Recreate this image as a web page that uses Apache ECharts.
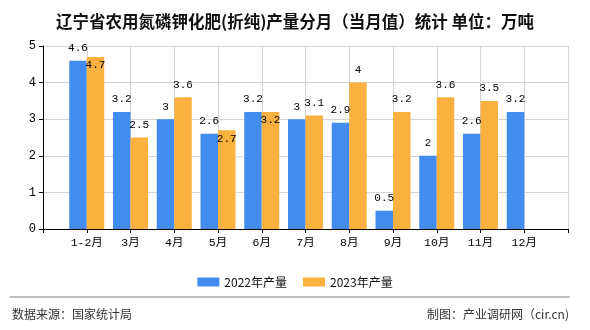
<!DOCTYPE html>
<html>
<head>
<meta charset="utf-8">
<script src="https://cdn.jsdelivr.net/npm/echarts@6/dist/echarts.min.js"></script>
<style>html,body{margin:0;padding:0;background:#fff}#c{width:590px;height:330px}</style>
</head>
<body>
<div id="c"></div>
<script>
const categories = ['1-2月','3月','4月','5月','6月','7月','8月','9月','10月','11月','12月'];
const series2022 = [4.6, 3.2, 3, 2.6, 3.2, 3, 2.9, 0.5, 2, 2.6, 3.2];
const series2023 = [4.7, 2.5, 3.6, 2.7, 3.2, 3.1, 4, 3.2, 3.6, 3.5, null];
const yTicks = [0, 1, 2, 3, 4, 5];
const titleText = '辽宁省农用氮磷钾化肥(折纯)产量分月（当月值）统计 单位：万吨';
const legendNames = ['2022年产量', '2023年产量'];
const sourceText = '数据来源：国家统计局';
const makerText = '制图：产业调研网（cir.cn)';

const BLUE = '#438cef', ORANGE = '#fbb13f';
const monoFont = '"Liberation Mono","Noto Sans CJK SC",monospace';

// axis slots: empty slot at both ends
const axisCats = [''].concat(categories, ['']);
const d22 = [null].concat(series2022, [null]);
const d23 = [null].concat(series2023, [null]);

function overlaps(i) {
  const a = series2022[i], b = series2023[i];
  if (a == null || b == null) return false;
  return Math.abs(a - b) < 0.2 && String(a).length > 1 && String(b).length > 1;
}

const data22 = d22.map(v => v == null ? '-' : v);
const data23 = d23.map((v, k) => {
  if (v == null) return '-';
  const i = k - 1;
  if (overlaps(i)) return { value: v, label: { position: 'insideTop', distance: 3 } };
  return v;
});

const chart = echarts.init(document.getElementById('c'));
chart.setOption({
  animation: false,
  title: {
    text: titleText, left: 'center', top: 8,
    textStyle: { fontSize: 16.5, fontWeight: 'bold', color: '#111', fontFamily: '"Noto Sans CJK SC"' }
  },
  legend: {
    data: legendNames, left: 'center', top: 271,
    itemWidth: 22, itemHeight: 9, itemGap: 16,
    textStyle: { fontSize: 12, color: '#111', fontFamily: '"Noto Sans CJK SC"', padding: [0, 0, 0, 0] },
    icon: 'rect'
  },
  grid: { left: 43, right: 22, top: 46, bottom: 101, containLabel: false },
  xAxis: {
    type: 'category', data: axisCats, boundaryGap: false,
    axisLine: { lineStyle: { color: '#000', width: 1 } },
    axisTick: { show: true, length: 4, lineStyle: { color: '#000' } },
    axisLabel: { color: '#000', fontSize: 11.5, fontFamily: monoFont, interval: 0, margin: 8 },
    splitLine: { show: true, lineStyle: { color: '#d3d3d3' } }
  },
  yAxis: {
    type: 'value', min: yTicks[0], max: yTicks[yTicks.length - 1], interval: 1,
    axisLine: { show: true, lineStyle: { color: '#000', width: 1 } },
    axisTick: { show: true, length: 4, lineStyle: { color: '#000' } },
    axisLabel: { color: '#000', fontSize: 12, fontFamily: monoFont, margin: 7 },
    splitLine: { show: true, lineStyle: { color: '#d3d3d3' } }
  },
  series: [
    {
      name: legendNames[0], type: 'bar', data: data22, barWidth: 17.5, barGap: '0%',
      itemStyle: { color: BLUE },
      label: { show: true, position: 'top', distance: 7, color: '#000', fontSize: 11, fontFamily: monoFont }
    },
    {
      name: legendNames[1], type: 'bar', data: data23, barWidth: 17.5, barGap: '0%',
      itemStyle: { color: ORANGE },
      label: { show: true, position: 'top', distance: 7, color: '#000', fontSize: 11, fontFamily: monoFont }
    }
  ],
  graphic: [
    { type: 'line', shape: { x1: 10, y1: 297, x2: 570, y2: 297 }, style: { stroke: '#808080', lineWidth: 1 } },
    { type: 'text', left: 12, top: 308, style: { text: sourceText, fontSize: 12, fill: '#333', fontFamily: '"Noto Sans CJK SC"' } },
    { type: 'text', right: 21, top: 308, style: { text: makerText, fontSize: 12, fill: '#333', fontFamily: '"Noto Sans CJK SC"' } }
  ]
});
</script>
</body>
</html>
